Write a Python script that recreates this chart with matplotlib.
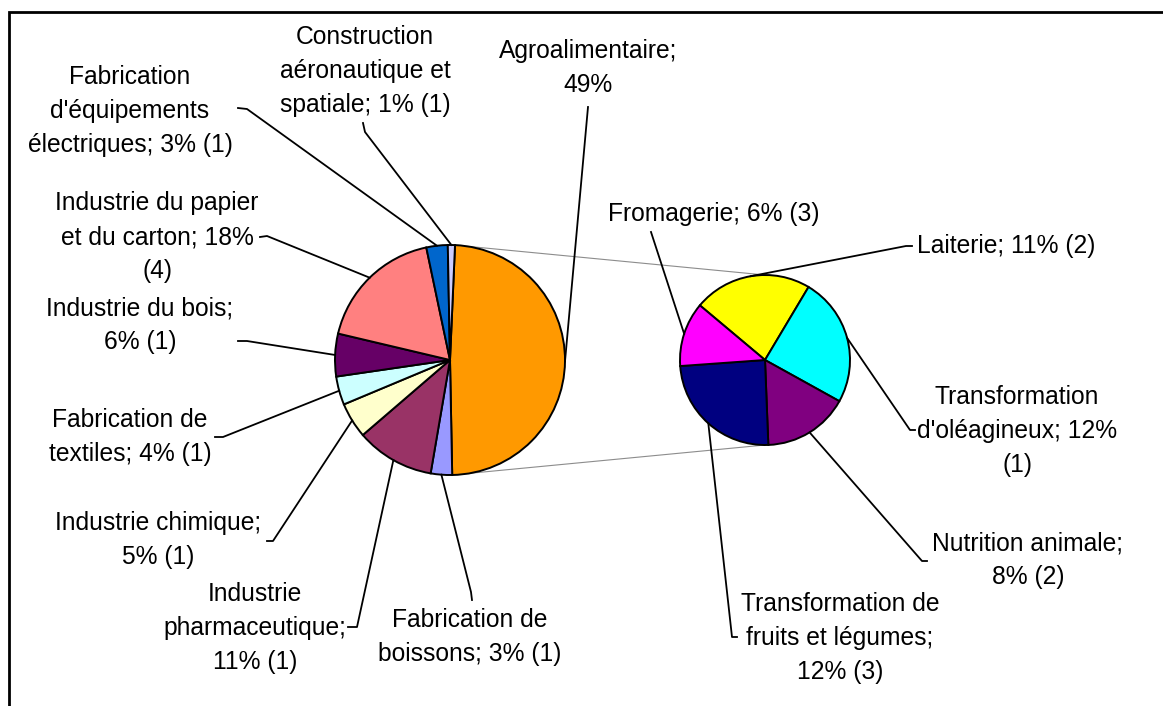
import numpy as np
import matplotlib
matplotlib.use("Agg")
import matplotlib.pyplot as plt
from matplotlib.patches import Rectangle

# main pie : share of each sector (%)
main_pct = [49, 3, 11, 5, 4, 6, 18, 3, 1]
main_texts = [
    "Agroalimentaire;\n49%",
    "Fabrication de\nboissons; 3% (1)",
    "Industrie\npharmaceutique;\n11% (1)",
    "Industrie chimique;\n5% (1)",
    "Fabrication de\ntextiles; 4% (1)",
    "Industrie du bois;\n6% (1)",
    "Industrie du papier\net du carton; 18%\n(4)",
    "Fabrication\nd'équipements\nélectriques; 3% (1)",
    "Construction\naéronautique et\nspatiale; 1% (1)",
]
main_colors = ["#FF9900", "#9999FF", "#993366", "#FFFFCC", "#CCFFFF",
               "#660066", "#FF8080", "#0066CC", "#CCCCFF"]

# secondary pie : detail of Agroalimentaire (%)
sub_pct = [11, 12, 8, 12, 6]
sub_texts = [
    "Laiterie; 11% (2)",
    "Transformation\nd'oléagineux; 12%\n(1)",
    "Nutrition animale;\n8% (2)",
    "Transformation de\nfruits et légumes;\n12% (3)",
    "Fromagerie; 6% (3)",
]
sub_colors = ["#FFFF00", "#00FFFF", "#800080", "#000080", "#FF00FF"]

W, H = 1163, 706


def P(x, y):
    # pixel position (y down) -> data coords (y up)
    return (x, H - y)


# text centre, leader start, leader elbow (pixels)
main_layout = [
    ((588, 68), (588, 107), (588, 107)),
    ((470, 637), (472, 600), (471, 592)),
    ((255, 628), (348, 627), (357, 627)),
    ((158, 540), (267, 541), (273, 541)),
    ((130, 437), (215, 437), (223, 437)),
    ((140, 325), (238, 341), (247, 341)),
    ((157, 237), (260, 237), (267, 236)),
    ((130, 111), (238, 108), (247, 109)),
    ((365, 71), (363, 123), (365, 132)),
]
sub_layout = [
    ((1006, 246), (912, 246), (906, 246)),
    ((1017, 431), (915, 430), (910, 430)),
    ((1028, 560), (927, 561), (922, 561)),
    ((840, 638), (737, 637), (732, 637)),
    ((714, 214), (651, 232), (651, 232)),
]

fig = plt.figure(figsize=(W / 100, H / 100), dpi=100)
ax = fig.add_axes([0, 0, 1, 1])

edge = dict(edgecolor="black", linewidth=1.4)
wm, _ = ax.pie(main_pct, colors=main_colors, startangle=87.5, counterclock=False,
               center=P(450, 360), radius=115, wedgeprops=edge)
ws, _ = ax.pie(sub_pct, colors=sub_colors, startangle=140, counterclock=False,
               center=P(765, 360), radius=85, wedgeprops=edge)

ax.set_xlim(0, W)
ax.set_ylim(0, H)
ax.set_aspect("equal")
ax.axis("off")


def arc_pt(w, ang):
    a = np.deg2rad(ang)
    return w.center[0] + w.r * np.cos(a), w.center[1] + w.r * np.sin(a)


def mid_pt(w):
    return arc_pt(w, (w.theta1 + w.theta2) / 2)


# grey connectors between the two pies
agro = wm[0]
sc, sr = ws[0].center, ws[0].r
for ang, sy in [(agro.theta2, sc[1] + sr), (agro.theta1, sc[1] - sr)]:
    x0, y0 = arc_pt(agro, ang)
    ax.plot([x0, sc[0]], [y0, sy], color="#8c8c8c", lw=0.8, zorder=0)

font = dict(family=["Liberation Sans", "DejaVu Sans"], fontsize=17.7,
            ha="center", va="center", linespacing=1.52)

for wedges, texts, layout in [(wm, main_texts, main_layout), (ws, sub_texts, sub_layout)]:
    for w, s, (tc, st, el) in zip(wedges, texts, layout):
        ax.text(*P(*tc), s, **font)
        ex, ey = mid_pt(w)
        xs = [st[0], el[0]]
        ys = [H - st[1], H - el[1]]
        ax.plot(xs + [ex], ys + [ey], color="black", lw=1.3, zorder=3)

# chart frame, cut by the image edges
ax.add_patch(Rectangle(P(9, H + 40), W + 40, H + 28, fill=False, lw=2,
                       edgecolor="black", clip_on=False))

fig.savefig("out.png", dpi=100)
